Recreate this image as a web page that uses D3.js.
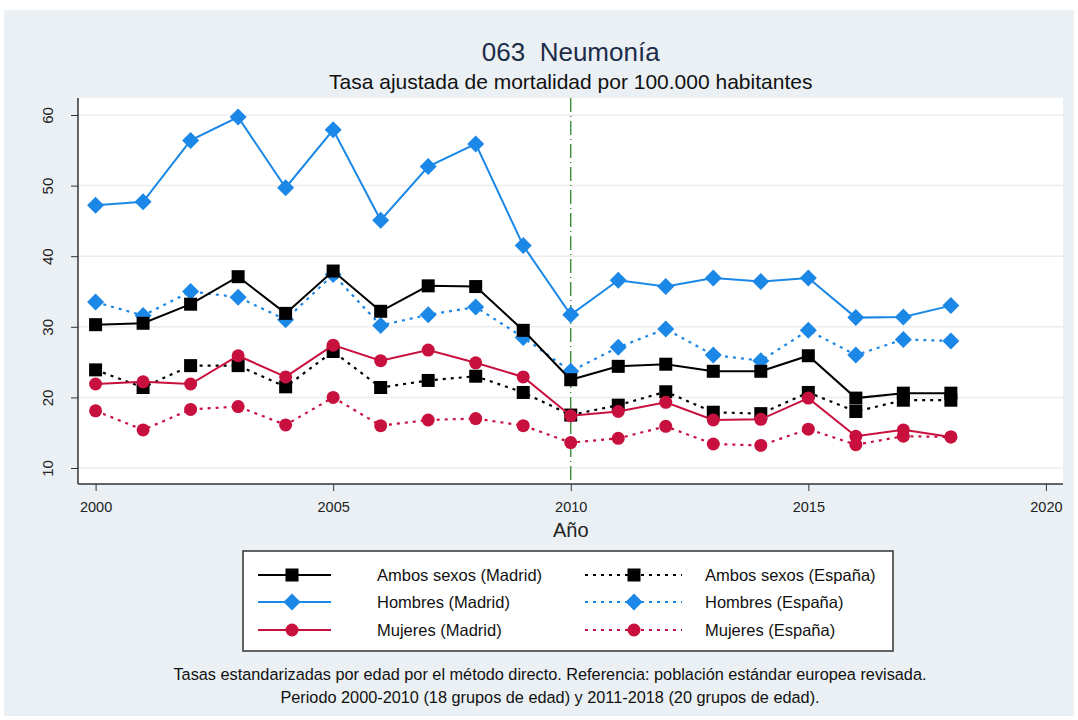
<!DOCTYPE html>
<html>
<head>
<meta charset="utf-8">
<script src="https://cdn.jsdelivr.net/npm/d3@7"></script>
<style>
  body { margin: 0; background: #fff; }
  svg { font-family: "Liberation Sans", Arial, sans-serif; }
</style>
</head>
<body>
<div id="chart"></div>
<script>
// data
var years = d3.range(2000, 2019);
var ambosMadrid   = [30.3, 30.5, 33.2, 37.1, 31.9, 37.9, 32.2, 35.8, 35.7, 29.5, 22.5, 24.4, 24.7, 23.7, 23.7, 25.9, 19.9, 20.6, 20.6];
var ambosEspana   = [23.9, 21.4, 24.5, 24.5, 21.5, 26.5, 21.4, 22.4, 23.0, 20.7, 17.5, 18.9, 20.8, 17.9, 17.7, 20.7, 18.0, 19.6, 19.6];
var hombresMadrid = [47.2, 47.7, 56.4, 59.7, 49.7, 57.9, 45.1, 52.7, 55.9, 41.5, 31.7, 36.6, 35.7, 36.9, 36.4, 36.9, 31.3, 31.4, 33.0];
var hombresEspana = [33.5, 31.6, 35.0, 34.2, 31.0, 37.4, 30.2, 31.7, 32.8, 28.5, 23.7, 27.1, 29.7, 26.0, 25.2, 29.5, 26.0, 28.2, 28.0];
var mujeresMadrid = [21.9, 22.2, 21.9, 25.9, 22.9, 27.4, 25.2, 26.7, 24.9, 22.9, 17.4, 18.0, 19.3, 16.8, 16.9, 19.9, 14.5, 15.4, 14.4];
var mujeresEspana = [18.1, 15.4, 18.3, 18.7, 16.1, 20.0, 16.0, 16.8, 17.0, 16.0, 13.6, 14.2, 15.9, 13.4, 13.2, 15.5, 13.3, 14.5, 14.4];

var xTicks = [2000, 2005, 2010, 2015, 2020];
var yTicks = [10, 20, 30, 40, 50, 60];

var blue = "#1b87e6", red = "#c8103e", black = "#000";

var series = [
  {name: "Ambos sexos (Madrid)", values: ambosMadrid, color: black, dash: null, shape: "square"},
  {name: "Ambos sexos (España)", values: ambosEspana, color: black, dash: "3,5", shape: "square"},
  {name: "Hombres (Madrid)", values: hombresMadrid, color: blue, dash: null, shape: "diamond"},
  {name: "Hombres (España)", values: hombresEspana, color: blue, dash: "3,5", shape: "diamond"},
  {name: "Mujeres (Madrid)", values: mujeresMadrid, color: red, dash: null, shape: "circle"},
  {name: "Mujeres (España)", values: mujeresEspana, color: red, dash: "3,5", shape: "circle"}
];

var W = 1078, H = 720;
var plot = {left: 78, right: 1063, top: 98, bottom: 484};

var svg = d3.select("#chart").append("svg")
  .attr("width", W).attr("height", H);

// outer panel
svg.append("rect").attr("x", 4).attr("y", 10).attr("width", 1070).attr("height", 706)
  .attr("fill", "#eaf0f3");
svg.append("rect").attr("x", plot.left).attr("y", plot.top)
  .attr("width", plot.right - plot.left).attr("height", plot.bottom - plot.top)
  .attr("fill", "#fff");

var x = d3.scaleLinear().domain([1999.63, 2020.36]).range([plot.left, plot.right]);
var y = d3.scaleLinear().domain([60, 10]).range([115, 468]);

// grid
svg.append("g").selectAll("line").data(yTicks).enter().append("line")
  .attr("x1", plot.left).attr("x2", plot.right)
  .attr("y1", function(d) { return y(d); }).attr("y2", function(d) { return y(d); })
  .attr("stroke", "#ececec").attr("stroke-width", 1.5);

// 2010 reference line
svg.append("line")
  .attr("x1", x(2010)).attr("x2", x(2010)).attr("y1", plot.top).attr("y2", plot.bottom)
  .attr("stroke", "#2a8a2a").attr("stroke-width", 1.3)
  .attr("stroke-dasharray", "14,4,1,4");

// axes
var yAxis = svg.append("g").attr("transform", "translate(" + plot.left + ",0)")
  .call(d3.axisLeft(y).tickValues(yTicks).tickSize(7).tickPadding(20));
yAxis.select(".domain").attr("d", "M0," + plot.top + "V" + plot.bottom).attr("stroke", "#333").attr("stroke-width", 1.5);
yAxis.selectAll(".tick line").attr("stroke", "#333");
yAxis.selectAll(".tick text")
  .attr("transform", "rotate(-90,-30,0)")
  .attr("x", -30).attr("dy", "0.35em")
  .attr("text-anchor", "middle")
  .attr("font-size", 15).attr("fill", "#222");

var xAxis = svg.append("g").attr("transform", "translate(0," + plot.bottom + ")")
  .call(d3.axisBottom(x).tickValues(xTicks).tickFormat(d3.format("d")).tickSize(7).tickPadding(11));
xAxis.select(".domain").attr("d", "M" + plot.left + ",0H" + plot.right).attr("stroke", "#333").attr("stroke-width", 1.5);
xAxis.selectAll(".tick line").attr("stroke", "#333");
xAxis.selectAll(".tick text").attr("font-size", 14.5).attr("fill", "#222");

svg.append("text").attr("x", x(2010)).attr("y", 537)
  .attr("text-anchor", "middle").attr("font-size", 20).attr("fill", "#222").text("Año");

// titles
svg.append("text").attr("x", x(2010)).attr("y", 61)
  .attr("text-anchor", "middle").attr("font-size", 26).attr("fill", "#1c2d4a")
  .attr("xml:space", "preserve").text("063  Neumonía");
svg.append("text").attr("x", x(2010)).attr("y", 89)
  .attr("text-anchor", "middle").attr("font-size", 21).attr("fill", "#111")
  .text("Tasa ajustada de mortalidad por 100.000 habitantes");

function drawMarker(g, shape, color, cx, cy) {
  if (shape === "square") {
    g.append("rect").attr("x", cx - 6.5).attr("y", cy - 6.5).attr("width", 13).attr("height", 13).attr("fill", color);
  } else if (shape === "diamond") {
    g.append("path").attr("d", "M" + cx + "," + (cy - 8.5) + "L" + (cx + 8.5) + "," + cy + "L" + cx + "," + (cy + 8.5) + "L" + (cx - 8.5) + "," + cy + "Z").attr("fill", color);
  } else {
    g.append("circle").attr("cx", cx).attr("cy", cy).attr("r", 6.5).attr("fill", color);
  }
}

var line = d3.line()
  .x(function(d, i) { return x(years[i]); })
  .y(function(d) { return y(d); });

// draw order: España lines under, Madrid on top
var order = [1, 3, 5, 0, 2, 4];
order.forEach(function(k) {
  var s = series[k];
  var g = svg.append("g");
  g.append("path").attr("d", line(s.values))
    .attr("fill", "none").attr("stroke", s.color)
    .attr("stroke-width", s.dash ? 2.2 : 2)
    .attr("stroke-dasharray", s.dash);
  s.values.forEach(function(v, i) { drawMarker(g, s.shape, s.color, x(years[i]), y(v)); });
});

// legend
var lg = svg.append("g");
lg.append("rect").attr("x", 243).attr("y", 551).attr("width", 650).attr("height", 100)
  .attr("fill", "#fff").attr("stroke", "#333").attr("stroke-width", 1.5);
var rowsY = [575, 602, 630];
series.forEach(function(s, i) {
  var col = i % 2, row = Math.floor(i / 2);
  var cy = rowsY[row];
  var x0 = col === 0 ? 258 : 585, x1 = col === 0 ? 331 : 682, mx = col === 0 ? 292 : 634;
  var tx = col === 0 ? 377 : 705;
  lg.append("line").attr("x1", x0).attr("x2", x1).attr("y1", cy).attr("y2", cy)
    .attr("stroke", s.color).attr("stroke-width", s.dash ? 2.2 : 2)
    .attr("stroke-dasharray", s.dash);
  drawMarker(lg, s.shape, s.color, mx, cy);
  lg.append("text").attr("x", tx).attr("y", cy).attr("dy", "0.35em")
    .attr("font-size", 16.5).attr("fill", "#111").text(s.name);
});

// footnote
svg.append("text").attr("x", 550).attr("y", 680).attr("text-anchor", "middle")
  .attr("font-size", 16.3).attr("fill", "#111")
  .text("Tasas estandarizadas por edad por el método directo. Referencia: población estándar europea revisada.");
svg.append("text").attr("x", 550).attr("y", 703).attr("text-anchor", "middle")
  .attr("font-size", 16.3).attr("fill", "#111")
  .text("Periodo 2000-2010 (18 grupos de edad) y 2011-2018 (20 grupos de edad).");
</script>
</body>
</html>
